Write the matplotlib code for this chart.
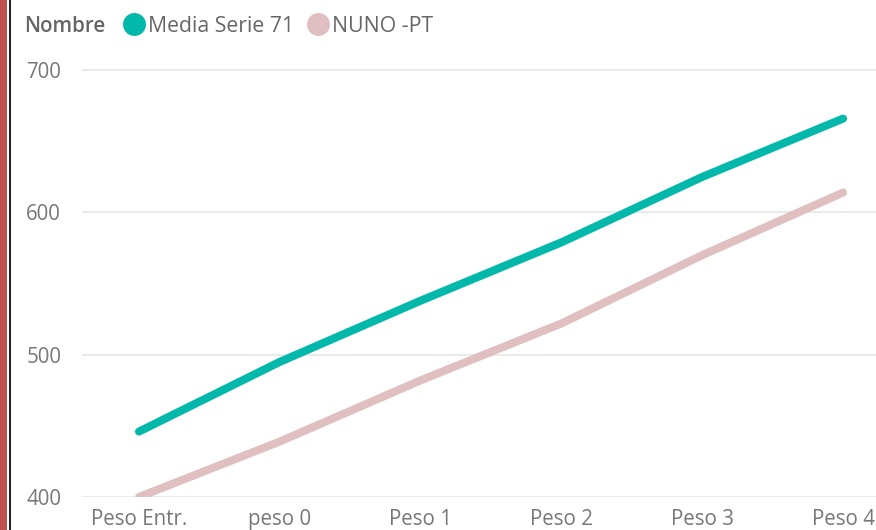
import matplotlib
matplotlib.use("Agg")
import matplotlib.pyplot as plt
from matplotlib.lines import Line2D
from matplotlib.patches import Rectangle

categories = ["Peso Entr.", "peso 0", "Peso 1", "Peso 2", "Peso 3", "Peso 4"]
media_serie = [446, 495, 538, 579, 625, 666]
nuno_pt = [400, 439, 482, 522, 570, 614]
series_names = ["Media Serie 71", "NUNO -PT"]
colors = ["#01B8AA", "#DFBFBF"]
yticks = [400, 500, 600, 700]

plt.rcParams['font.family'] = ['Open Sans', 'DejaVu Sans']

W, H = 876, 530
fig = plt.figure(figsize=(W / 100, H / 100), dpi=100)
fig.patch.set_facecolor("white")

left_px, right_px, bottom_px = 82, 876, 497
top_px = 56
ax = fig.add_axes([left_px / W, (H - bottom_px) / H,
                   (right_px - left_px) / W, (bottom_px - top_px) / H])

x = list(range(len(categories)))
for vals, c in zip([media_serie, nuno_pt], colors):
    ax.plot(x, vals, color=c, lw=5.8, solid_capstyle="round",
            solid_joinstyle="round", zorder=3)

ax.set_xlim(-0.405, 5.234)
ax.set_ylim(400, 710)
ax.set_yticks(yticks)
ax.set_yticklabels([str(v) for v in yticks])
ax.set_xticks(x)
ax.set_xticklabels(categories)
ax.grid(axis="y", color="#E8E8E8", lw=1.3, zorder=0)
ax.grid(axis="x", visible=False)
for s in ax.spines.values():
    s.set_visible(False)
ax.tick_params(axis="both", length=0, colors="#777777", labelsize=14.8)
ax.tick_params(axis="y", pad=15)
ax.tick_params(axis="x", pad=8.5)
ax.set_facecolor("white")

# legend
ly = 1 - 24 / H
lt = 1 - 26 / H
fig.text(24 / W, lt, "Nombre", fontsize=14.8, fontweight="semibold",
         color="#666666", va="center", ha="left")
for cx, tx, name, c in [(134, 148, series_names[0], colors[0]),
                        (318, 332, series_names[1], colors[1])]:
    fig.add_artist(Line2D([cx / W], [ly], marker="o", markersize=16.5,
                          color=c, markeredgewidth=0, transform=fig.transFigure))
    fig.text(tx / W, lt, name, fontsize=15.3, color="#666666",
             va="center", ha="left")

# left border decorations
fig.add_artist(Rectangle((0, 0), 6.7 / W, 1, color="#C0504D",
                         transform=fig.transFigure, lw=0))
fig.add_artist(Rectangle((8.8 / W, 0), 1.8 / W, 1, color="#222222",
                         transform=fig.transFigure, lw=0))

fig.savefig("out.png", dpi=100, facecolor="white")
